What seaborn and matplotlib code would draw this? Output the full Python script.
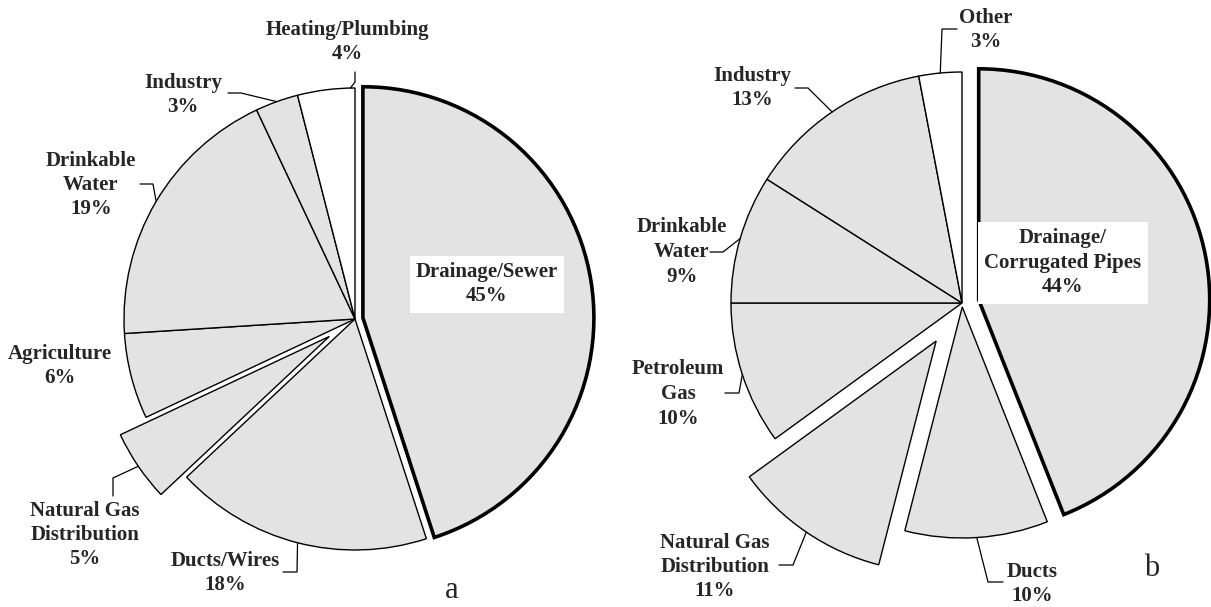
import numpy as np
import matplotlib
matplotlib.use("Agg")
import matplotlib.pyplot as plt
import seaborn as sns

# values (clockwise from 12 o'clock)
left_labels = ["Drainage/Sewer", "Ducts/Wires", "Natural Gas\nDistribution", "Agriculture",
               "Drinkable\nWater", "Industry", "Heating/Plumbing"]
left_pct = [45, 18, 5, 6, 19, 3, 4]

right_labels = ["Drainage/\nCorrugated Pipes", "Ducts", "Natural Gas\nDistribution", "Petroleum\nGas",
                "Drinkable\nWater", "Industry", "Other"]
right_pct = [44, 10, 11, 10, 9, 13, 3]

W, H = 1211, 607
GREY = "#e3e3e3"

sns.set_theme(style="white")
plt.rcParams['font.family'] = ['Liberation Serif', 'DejaVu Serif']

fig = plt.figure(figsize=(W / 100, H / 100), dpi=100)
ax = fig.add_axes([0, 0, 1, 1])


def P(x, y):
    # image pixel -> data coords (y up)
    return x, H - y


def draw_pie(pct, labels, center, r, explode, colors, text_pos, leaders, box_idx):
    wedges, _ = ax.pie(pct, explode=explode, colors=colors, startangle=90, counterclock=False,
                       radius=r, center=P(*center), frame=True,
                       wedgeprops=dict(edgecolor="black", linewidth=1.0))
    wedges[box_idx].set_linewidth(2.6)
    for i, (w, lab, p) in enumerate(zip(wedges, labels, pct)):
        tx, ty = P(*text_pos[i])
        txt = f"{lab}\n{p}%"
        if i == box_idx:
            ax.text(tx, ty, txt, ha="center", va="center", fontsize=15, fontweight="bold",
                    linespacing=1.3,
                    bbox=dict(boxstyle="square,pad=0.3", facecolor="white", edgecolor="none"))
            continue
        ax.text(tx, ty, txt, ha="center", va="center", fontsize=15, fontweight="bold",
                linespacing=1.3)
        ld = leaders[i]
        if ld is None:
            continue
        (sx, sy), (ex, ey), frac = ld
        ang = np.deg2rad(w.theta1 + frac * (w.theta2 - w.theta1))
        ax_, ay_ = w.center[0] + w.r * np.cos(ang), w.center[1] + w.r * np.sin(ang)
        xs = [P(sx, sy)[0], P(ex, ey)[0], ax_]
        ys = [P(sx, sy)[1], P(ex, ey)[1], ay_]
        ax.plot(xs, ys, color="black", linewidth=0.9, solid_joinstyle="miter")


# left pie (a)
left_colors = [GREY] * 6 + ["white"]
left_explode = [8, 0, 31, 0, 0, 0, 0]
left_text = [(487, 284), (225, 573), (85, 535), (60, 366), (91, 185), (183, 95), (347, 42)]
left_leaders = [None,
                ((283, 572), (297, 572), 0.5),
                ((113, 496), (113, 478), 0.5),
                None,
                ((140, 184), (153, 184), 0.5),
                ((228, 93), (241, 93), 0.5),
                ((355, 72), (355, 82), 0.08)]
draw_pie(left_pct, left_labels, (355, 319), 231, left_explode, left_colors,
         left_text, left_leaders, 0)

# right pie (b)
right_colors = [GREY] * 6 + ["white"]
right_explode = [17, 4, 46, 0, 0, 0, 0]
right_text = [(1063, 263), (1032, 584), (715, 567), (678, 394), (682, 252), (752, 88), (986, 30)]
right_leaders = [None,
                 ((1003, 582), (988, 582), 0.5),
                 ((779, 565), (793, 565), 0.5),
                 ((725, 393), (739, 393), 0.5),
                 ((710, 252), (723, 252), 0.5),
                 ((795, 88), (808, 88), 0.5),
                 ((957, 29), (942, 29), 0.5)]
draw_pie(right_pct, right_labels, (962, 303), 231, right_explode, right_colors,
         right_text, right_leaders, 0)

ax.text(*P(452, 590), "a", ha="center", va="center", fontsize=22)
ax.text(*P(1152, 568), "b", ha="center", va="center", fontsize=22)

ax.set_xlim(0, W)
ax.set_ylim(0, H)
ax.set_aspect("auto")
ax.axis("off")

fig.savefig("out.png", dpi=100, facecolor="white")
